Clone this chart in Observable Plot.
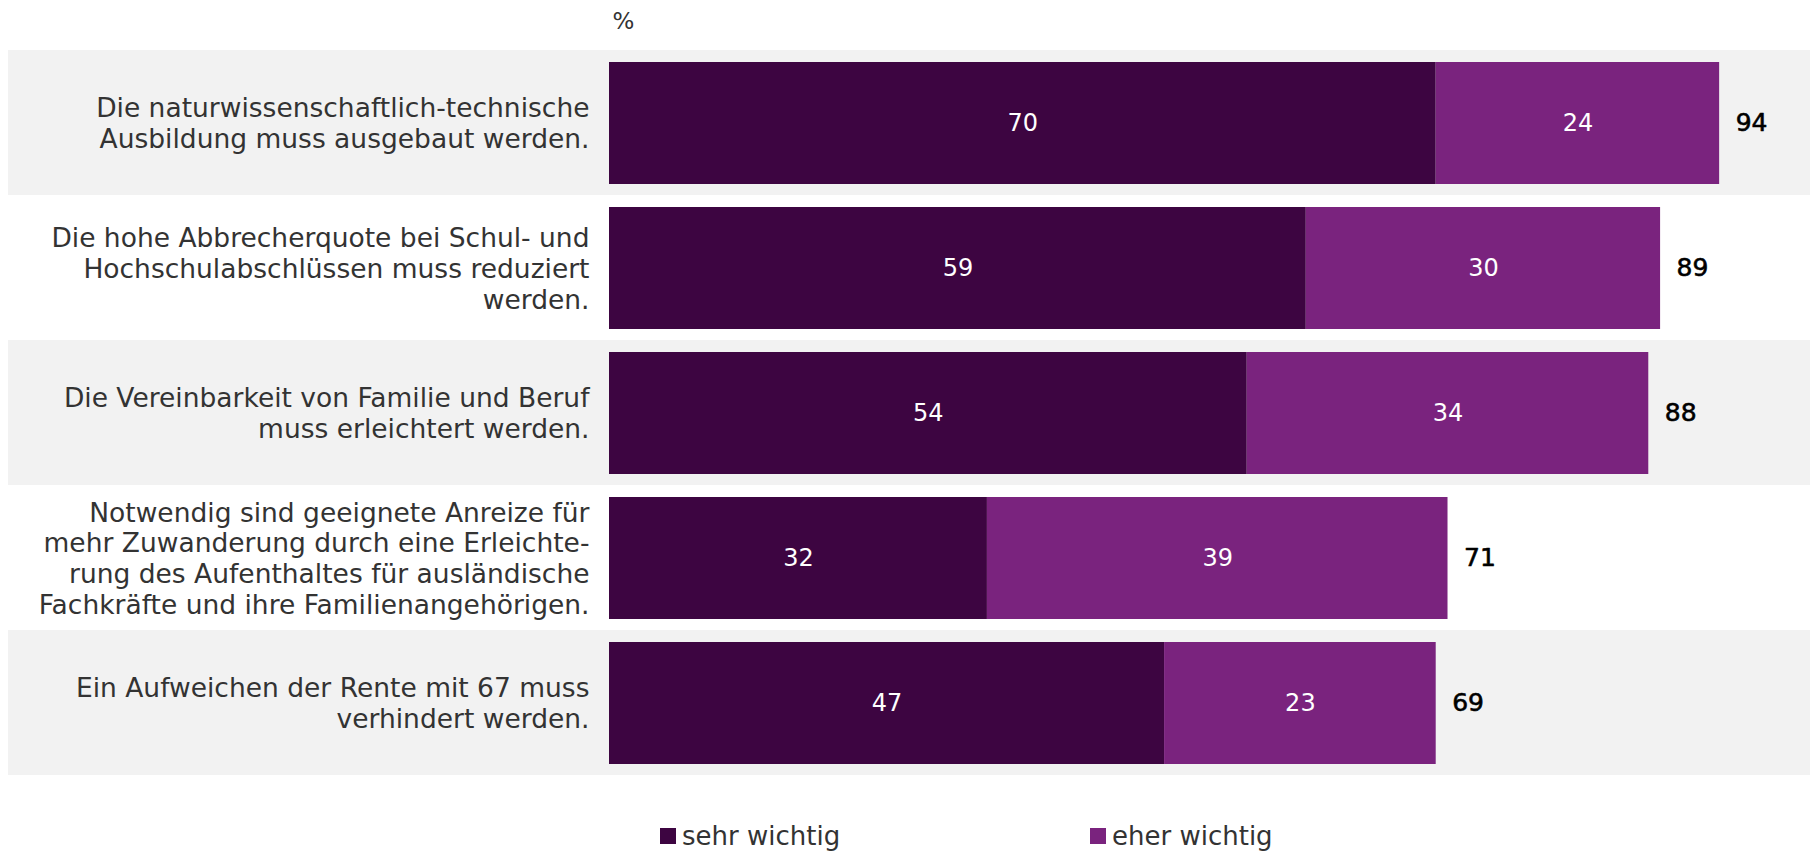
<!DOCTYPE html>
<html>
<head>
<meta charset="utf-8">
<script src="https://cdn.jsdelivr.net/npm/d3@7"></script>
<script src="https://cdn.jsdelivr.net/npm/@observablehq/plot@0.6"></script>
<style>
  html, body { margin: 0; background: #fff; font-family: "DejaVu Sans", sans-serif; overflow: hidden; }
  #legend { position: relative; height: 51px; width: 1810px; overflow: hidden; }
  .item { position: absolute; top: 20px; height: 32px; display: flex; align-items: center; font-size: 26px; color: #333; font-family: "DejaVu Sans", sans-serif; }
  .sw { width: 16px; height: 16px; margin-right: 6px; }
</style>
</head>
<body>
<div id="chart"></div>
<div id="legend"></div>
<script>
const categories = [
  "Die naturwissenschaftlich-technische\nAusbildung muss ausgebaut werden.",
  "Die hohe Abbrecherquote bei Schul- und\nHochschulabschlüssen muss reduziert\nwerden.",
  "Die Vereinbarkeit von Familie und Beruf\nmuss erleichtert werden.",
  "Notwendig sind geeignete Anreize für\nmehr Zuwanderung durch eine Erleichte-\nrung des Aufenthaltes für ausländische\nFachkräfte und ihre Familienangehörigen.",
  "Ein Aufweichen der Rente mit 67 muss\nverhindert werden."
];
const seriesNames = ["sehr wichtig", "eher wichtig"];
const sehrWichtig = [70, 59, 54, 32, 47];
const eherWichtig = [24, 30, 34, 39, 23];
const totals = [94, 89, 88, 71, 69];
const colors = ["#3d0541", "#7a237e"];

const rows = [];
categories.forEach((c, i) => {
  rows.push({cat: c, series: seriesNames[0], value: sehrWichtig[i]});
  rows.push({cat: c, series: seriesNames[1], value: eherWichtig[i]});
});
// totals are labelled at the end of the stacked bar
const totalRows = categories.map((c, i) => ({cat: c, total: totals[i], end: sehrWichtig[i] + eherWichtig[i]}));
const bandRows = categories.filter((c, i) => i % 2 === 0).map(c => ({cat: c}));

const W = 1810, ML = 609, MR = 20;

const chart = Plot.plot({
  width: W,
  height: 800,
  marginLeft: ML,
  marginRight: MR,
  marginTop: 48,
  marginBottom: 24,
  style: {fontFamily: "DejaVu Sans, sans-serif", background: "transparent"},
  x: {domain: [0, 100], axis: null},
  y: {domain: categories, padding: 0, axis: null},
  color: {domain: seriesNames, range: colors},
  marks: [
    Plot.cell(bandRows, {y: "cat", fill: "#f2f2f2", insetLeft: -(ML - 8), insetRight: -MR}),
    Plot.barX(rows, Plot.stackX({y: "cat", x: "value", z: "series", fill: "series", order: seriesNames, insetTop: 12, insetBottom: 11})),
    Plot.text(rows, Plot.stackX({y: "cat", x: "value", z: "series", order: seriesNames, text: d => String(d.value), fill: "white", fontSize: 24})),
    Plot.text(totalRows, {y: "cat", x: "end", text: d => String(d.total), textAnchor: "start", dx: 16, fill: "black", stroke: "black", strokeWidth: 0.6, fontSize: 25}),
    Plot.text(categories, {y: d => d, frameAnchor: "left", text: d => d, textAnchor: "end", dx: -20, fill: "#333", fontSize: 26.5, lineHeight: 1.165}),
    Plot.text(["%"], {frameAnchor: "top-left", text: d => d, dy: -36, dx: 3, fill: "#333", fontSize: 23})
  ]
});
document.getElementById("chart").appendChild(chart);

const legend = document.getElementById("legend");
const lx = [660, 1090];
seriesNames.forEach((s, i) => {
  const it = document.createElement("div");
  it.className = "item";
  it.style.left = lx[i] + "px";
  it.innerHTML = `<span class="sw" style="background:${colors[i]}"></span><span>${s}</span>`;
  legend.appendChild(it);
});
</script>
</body>
</html>
